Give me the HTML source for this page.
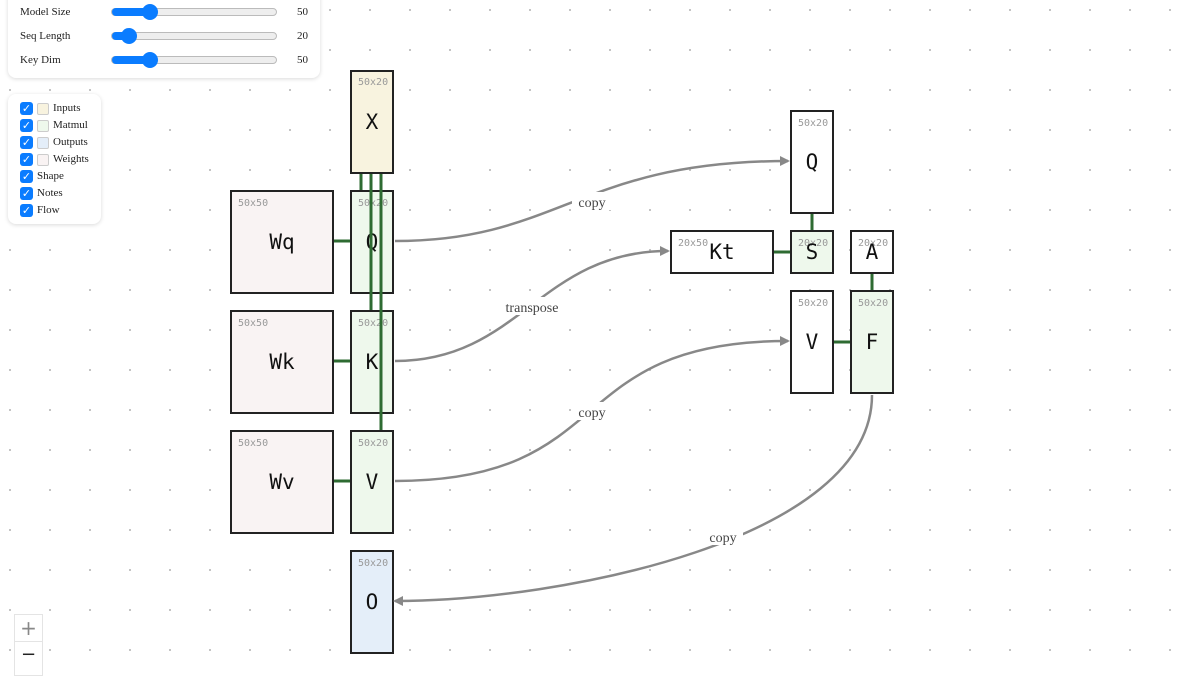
<!DOCTYPE html>
<html><head><meta charset="utf-8"><style>
html,body{margin:0;padding:0;width:1200px;height:670px;overflow:hidden;background:#fff;font-family:"Liberation Serif",serif;}
.panel{position:absolute;background:#fff;border-radius:8px;box-shadow:0 1px 4px rgba(0,0,0,0.15);}
.row{position:absolute;font-size:11px;color:#222;}
.sl{position:absolute;height:8px;border-radius:4px;background:#eee;border:1px solid #bbb;box-sizing:border-box;}
.sl .f{position:absolute;left:0;top:-1px;height:8px;border-radius:4px;background:#0a7cff;}
.sl .k{position:absolute;top:-5px;width:16px;height:16px;border-radius:50%;background:#0a7cff;}
.cb{position:absolute;width:13px;height:13px;border-radius:3px;background:#0a7cff;color:#fff;font-size:11px;line-height:13px;text-align:center;font-family:"DejaVu Sans",sans-serif;}
.sw{position:absolute;width:10px;height:10px;border:1px solid #ccc;border-radius:2px;}
.lab{position:absolute;font-size:11px;color:#222;}
</style></head><body>
<svg width="1200" height="670" style="position:absolute;left:0;top:0">
<defs>
<pattern id="d" x="9" y="9" width="40" height="40" patternUnits="userSpaceOnUse"><rect x="0" y="0" width="2" height="2" fill="#c4c4c4"/></pattern>
<marker id="ar" markerWidth="10" markerHeight="10" refX="8" refY="5" orient="auto" markerUnits="userSpaceOnUse"><path d="M0,0 L10,5 L0,10 z" fill="#888"/></marker>
</defs>
<rect width="1200" height="670" fill="url(#d)"/>
<g font-family="DejaVu Sans Mono, Liberation Mono, monospace">
<!-- boxes -->
<g stroke="#222" stroke-width="2">
<rect x="351" y="71" width="42" height="102" fill="#f8f3df"/>
<rect x="231" y="191" width="102" height="102" fill="#f9f3f3"/>
<rect x="231" y="311" width="102" height="102" fill="#f9f3f3"/>
<rect x="231" y="431" width="102" height="102" fill="#f9f3f3"/>
<rect x="351" y="191" width="42" height="102" fill="#eef8ec"/>
<rect x="351" y="311" width="42" height="102" fill="#eef8ec"/>
<rect x="351" y="431" width="42" height="102" fill="#eef8ec"/>
<rect x="351" y="551" width="42" height="102" fill="#e4eef9"/>
<rect x="791" y="111" width="42" height="102" fill="#fff"/>
<rect x="671" y="231" width="102" height="42" fill="#fff"/>
<rect x="791" y="231" width="42" height="42" fill="#eef8ec"/>
<rect x="851" y="231" width="42" height="42" fill="#fff"/>
<rect x="791" y="291" width="42" height="102" fill="#fff"/>
<rect x="851" y="291" width="42" height="102" fill="#eef8ec"/>
</g>
<g font-size="10" fill="#999">
<text x="358" y="85">50x20</text>
<text x="238" y="206">50x50</text><text x="238" y="326">50x50</text><text x="238" y="446">50x50</text>
<text x="358" y="206">50x20</text><text x="358" y="326">50x20</text><text x="358" y="446">50x20</text>
<text x="358" y="566">50x20</text>
<text x="798" y="126">50x20</text>
<text x="678" y="246">20x50</text>
<text x="798" y="246">20x20</text><text x="858" y="246">20x20</text>
<text x="798" y="306">50x20</text><text x="858" y="306">50x20</text>
</g>
<g font-size="21" fill="#111" text-anchor="middle">
<text x="372" y="129">X</text>
<text x="282" y="249">Wq</text><text x="282" y="369">Wk</text><text x="282" y="489">Wv</text>
<text x="372" y="249">Q</text><text x="372" y="369">K</text><text x="372" y="489">V</text>
<text x="372" y="609">O</text>
<text x="812" y="169">Q</text>
<text x="722" y="259">Kt</text>
<text x="812" y="259">S</text><text x="872" y="259">A</text>
<text x="812" y="349">V</text><text x="872" y="349">F</text>
</g>
</g>
<!-- green connectors -->
<g stroke="#2e6b32" stroke-width="3">
<line x1="361" y1="174" x2="361" y2="190"/>
<line x1="371" y1="174" x2="371" y2="310"/>
<line x1="381" y1="174" x2="381" y2="430"/>
<line x1="334" y1="241" x2="350" y2="241"/>
<line x1="334" y1="361" x2="350" y2="361"/>
<line x1="334" y1="481" x2="350" y2="481"/>
<line x1="812" y1="214" x2="812" y2="230"/>
<line x1="774" y1="252" x2="790" y2="252"/>
<line x1="872" y1="274" x2="872" y2="290"/>
<line x1="834" y1="342" x2="850" y2="342"/>
</g>
<!-- grey flows -->
<g stroke="#888" stroke-width="2.5" fill="none" marker-end="url(#ar)">
<path d="M395,241 C560,241 580,161 788,161"/>
<path d="M395,361 C520,361 540,251 668,251"/>
<path d="M395,481 C620,481 560,341 788,341"/>
<path d="M872,395 C872,540 560,601 395,601"/>
</g>
<g font-family="Liberation Serif,serif" font-size="14" fill="#444" text-anchor="middle">
<rect x="572" y="192" width="40" height="18" fill="#fff"/><text x="592" y="207">copy</text>
<rect x="500" y="297" width="64" height="18" fill="#fff"/><text x="532" y="312">transpose</text>
<rect x="572" y="402" width="40" height="18" fill="#fff"/><text x="592" y="417">copy</text>
<rect x="703" y="527" width="40" height="18" fill="#fff"/><text x="723" y="542">copy</text>
</g>
</svg>

<div class="panel" style="left:8px;top:-10px;width:312px;height:88px;">
<div class="row" style="left:12px;top:16px">Model Size</div>
<div class="sl" style="left:103px;top:18px;width:166px"><div class="f" style="width:40px"></div><div class="k" style="left:30px"></div></div>
<div class="row" style="left:289px;top:16px">50</div>
<div class="row" style="left:12px;top:40px">Seq Length</div>
<div class="sl" style="left:103px;top:42px;width:166px"><div class="f" style="width:18px"></div><div class="k" style="left:9px"></div></div>
<div class="row" style="left:289px;top:40px">20</div>
<div class="row" style="left:12px;top:64px">Key Dim</div>
<div class="sl" style="left:103px;top:66px;width:166px"><div class="f" style="width:40px"></div><div class="k" style="left:30px"></div></div>
<div class="row" style="left:289px;top:64px">50</div>
</div>

<div class="panel" style="left:8px;top:94px;width:93px;height:130px;">
<div class="cb" style="left:12px;top:8px">✓</div><div class="sw" style="left:29px;top:9px;background:#f8f3df"></div><div class="lab" style="left:45px;top:8px">Inputs</div>
<div class="cb" style="left:12px;top:25px">✓</div><div class="sw" style="left:29px;top:26px;background:#eef8ec"></div><div class="lab" style="left:45px;top:25px">Matmul</div>
<div class="cb" style="left:12px;top:42px">✓</div><div class="sw" style="left:29px;top:43px;background:#e4eef9"></div><div class="lab" style="left:45px;top:42px">Outputs</div>
<div class="cb" style="left:12px;top:59px">✓</div><div class="sw" style="left:29px;top:60px;background:#f9f3f3"></div><div class="lab" style="left:45px;top:59px">Weights</div>
<div class="cb" style="left:12px;top:76px">✓</div><div class="lab" style="left:29px;top:76px">Shape</div>
<div class="cb" style="left:12px;top:93px">✓</div><div class="lab" style="left:29px;top:93px">Notes</div>
<div class="cb" style="left:12px;top:110px">✓</div><div class="lab" style="left:29px;top:110px">Flow</div>
</div>

<div style="position:absolute;left:14px;top:614px;width:27px;height:60px;border:1px solid #e4e4e4;background:#fff;">
<div style="height:26px;border-bottom:1px solid #e4e4e4;text-align:center;font:20px 'DejaVu Sans',sans-serif;color:#888;line-height:26px">+</div>
<div style="text-align:center;font:18px 'DejaVu Sans',sans-serif;color:#222;line-height:26px">−</div>
</div>
</body></html>
